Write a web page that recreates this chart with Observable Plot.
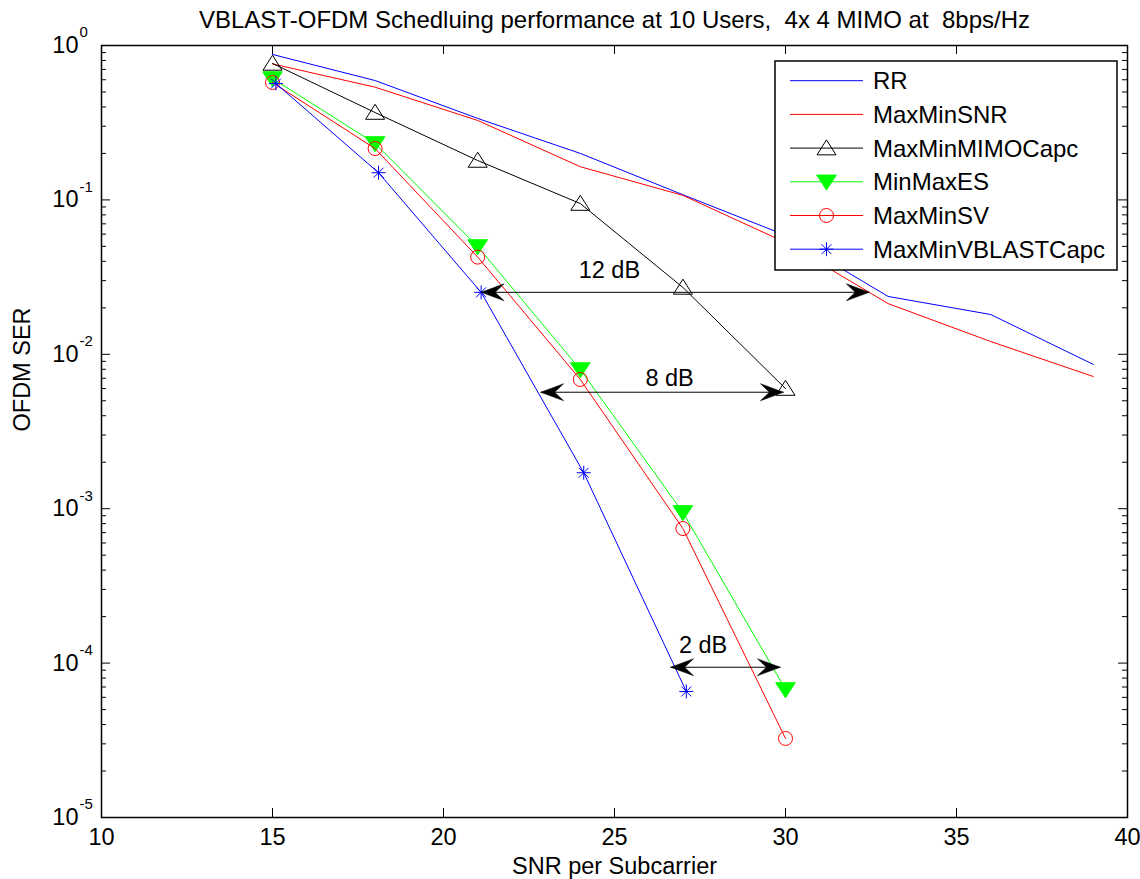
<!DOCTYPE html>
<html>
<head>
<meta charset="utf-8">
<script src="https://cdn.jsdelivr.net/npm/d3@7"></script>
<script src="https://cdn.jsdelivr.net/npm/@observablehq/plot@0.6"></script>
<style>
  body { margin: 0; background: #fff; font-family: "Liberation Sans", Arial, sans-serif; }
  #chart { position: relative; width: 1140px; height: 879px; }
  #chart svg text { white-space: pre; }
  #legend { position: absolute; left: 0; top: 0; pointer-events: none; }
</style>
</head>
<body>
<div id="chart"></div>
<script>
// SNR grid (dB) for each scheduler
const snrLong = [15, 18, 21, 24, 27, 30, 33, 36, 39];
const snrShort = [15, 18, 21, 24, 27, 30];
const snrVBLAST = [15.1, 18.1, 21.1, 24.1, 27.1];

// OFDM symbol error rate per scheduler
const serRR = [0.875, 0.593, 0.337, 0.20, 0.108, 0.059, 0.0237, 0.0181, 0.0086];
const serMaxMinSNR = [0.76, 0.537, 0.327, 0.164, 0.107, 0.053, 0.0213, 0.0121, 0.00718];
const serMaxMinMIMOCapc = [0.765, 0.368, 0.18, 0.0947, 0.0271, 0.0060];
const serMinMaxES = [0.611, 0.232, 0.0499, 0.00797, 0.000946, 6.75e-5];
const serMaxMinSV = [0.576, 0.215, 0.0426, 0.00687, 0.000744, 3.25e-5];
const serMaxMinVBLASTCapc = [0.567, 0.150, 0.0252, 0.00171, 6.55e-5];

const seriesNames = ["RR", "MaxMinSNR", "MaxMinMIMOCapc", "MinMaxES", "MaxMinSV", "MaxMinVBLASTCapc"];

// SNR-gap annotations
const gapLabels = ["12 dB", "8 dB", "2 dB"];
const gapFrom = [21.1, 22.84, 26.64];
const gapTo = [32.45, 29.94, 29.85];
const gapSER = [0.0252, 0.00568, 9.4e-5];
const gapLabelSNR = [24.85, 26.61, 27.59];
const gapLabelSER = [0.0349, 0.00697, 1.3e-4];

// Axis ticks
const xTicks = [10, 15, 20, 25, 30, 35, 40];
const yTicks = [1, 1e-1, 1e-2, 1e-3, 1e-4, 1e-5];
const yTickExponents = ["0", "-1", "-2", "-3", "-4", "-5"];

const title = "VBLAST-OFDM Schedluing performance at 10 Users,  4x 4 MIMO at  8bps/Hz";
const xLabel = "SNR per Subcarrier";
const yLabel = "OFDM SER";

// ---- layout ----
const W = 1140, H = 879;
const mL = 101, mR = 13, mT = 45, mB = 62;
const frameW = W - mL - mR, frameH = H - mT - mB;
const FONT = "\"Liberation Sans\", Arial, Helvetica, sans-serif";
const FS = 23.5;

// ---- marker shapes ----
const asterisk = {
  draw(ctx, size) {
    const r = Math.sqrt(size / Math.PI), d = r * Math.SQRT1_2;
    ctx.moveTo(-r, 0); ctx.lineTo(r, 0);
    ctx.moveTo(0, -r); ctx.lineTo(0, r);
    ctx.moveTo(-d, -d); ctx.lineTo(d, d);
    ctx.moveTo(-d, d); ctx.lineTo(d, -d);
  }
};
const triangleUp = {
  draw(ctx) {
    const w = 9.5, h = 15;
    ctx.moveTo(0, -0.55 * h); ctx.lineTo(w, 0.45 * h); ctx.lineTo(-w, 0.45 * h); ctx.closePath();
  }
};
const triangleDown = {
  draw(ctx) {
    const w = 9.8, h = 15;
    ctx.moveTo(0, 0.55 * h); ctx.lineTo(w, -0.45 * h); ctx.lineTo(-w, -0.45 * h); ctx.closePath();
  }
};
function arrowHead(dir) {
  return {
    draw(ctx) {
      const L = 23, h = 8.5, n = 14;
      ctx.moveTo(0, 0);
      ctx.lineTo(-dir * L, -h);
      ctx.lineTo(-dir * n, 0);
      ctx.lineTo(-dir * L, h);
      ctx.closePath();
    }
  };
}

const seriesStyle = {
  RR: {stroke: "#0000ff"},
  MaxMinSNR: {stroke: "#ff0000"},
  MaxMinMIMOCapc: {stroke: "#000000", symbol: triangleUp, fill: "none", r: 7},
  MinMaxES: {stroke: "#00ff00", symbol: triangleDown, fill: "#00ff00", r: 7},
  MaxMinSV: {stroke: "#ff0000", symbol: "circle", fill: "none", r: 7},
  MaxMinVBLASTCapc: {stroke: "#0000ff", symbol: asterisk, fill: "none", r: 7}
};

const zip = (xs, ys) => xs.map((x, i) => ({snr: x, ser: ys[i]}));
const series = {
  RR: zip(snrLong, serRR),
  MaxMinSNR: zip(snrLong, serMaxMinSNR),
  MaxMinMIMOCapc: zip(snrShort, serMaxMinMIMOCapc),
  MinMaxES: zip(snrShort, serMinMaxES),
  MaxMinSV: zip(snrShort, serMaxMinSV),
  MaxMinVBLASTCapc: zip(snrVBLAST, serMaxMinVBLASTCapc)
};

const gaps = gapLabels.map((label, i) => ({
  label, from: gapFrom[i], to: gapTo[i], ser: gapSER[i], lx: gapLabelSNR[i], ly: gapLabelSER[i]
}));

// minor log ticks 2..9 per decade
const yMinor = [];
for (let e = -5; e < 0; ++e) for (let k = 2; k <= 9; ++k) yMinor.push(k * Math.pow(10, e));

const seriesMarks = seriesNames.flatMap((name) => {
  const s = seriesStyle[name];
  const marks = [Plot.line(series[name], {x: "snr", y: "ser", stroke: s.stroke, strokeWidth: 1})];
  if (s.symbol) {
    marks.push(Plot.dot(series[name], {
      x: "snr", y: "ser", symbol: s.symbol, r: s.r, stroke: s.stroke, fill: s.fill, strokeWidth: 1
    }));
  }
  return marks;
});

const chart = Plot.plot({
  width: W, height: H,
  marginLeft: mL, marginRight: mR, marginTop: mT, marginBottom: mB,
  style: {fontFamily: FONT, fontSize: `${FS}px`, color: "#000", background: "#fff", overflow: "visible"},
  x: {domain: [10, 40]},
  y: {type: "log", domain: [1e-5, 1], axis: null},
  marks: [
    // inward ticks on all four sides
    Plot.tickX(xTicks, {x: (d) => d, insetTop: frameH - 9, stroke: "#000"}),
    Plot.tickX(xTicks, {x: (d) => d, insetBottom: frameH - 9, stroke: "#000"}),
    Plot.tickY(yTicks, {y: (d) => d, insetRight: frameW - 9, stroke: "#000"}),
    Plot.tickY(yTicks, {y: (d) => d, insetLeft: frameW - 9, stroke: "#000"}),
    Plot.tickY(yMinor, {y: (d) => d, insetRight: frameW - 5, stroke: "#000"}),
    Plot.tickY(yMinor, {y: (d) => d, insetLeft: frameW - 5, stroke: "#000"}),

    // tick labels
    Plot.axisX({ticks: xTicks, tickSize: 0, tickPadding: 11, tickFormat: (d) => `${d}`, label: null, fontSize: FS}),
    Plot.text(yTicks, {y: (d) => d, frameAnchor: "left", dx: -23, textAnchor: "end", text: () => "10", fontSize: FS}),
    Plot.text(yTicks, {y: (d) => d, frameAnchor: "left", dx: -22, dy: -13, textAnchor: "start", text: (d, i) => yTickExponents[i], fontSize: 15}),

    // axis titles and chart title
    Plot.text([xLabel], {frameAnchor: "bottom", lineAnchor: "middle", dy: 49, text: (d) => d, fontSize: FS}),
    Plot.text([yLabel], {frameAnchor: "left", lineAnchor: "middle", dx: -79, rotate: -90, text: (d) => d, fontSize: FS}),
    Plot.text([title], {frameAnchor: "top", lineAnchor: "middle", dy: -25, text: (d) => d, fontSize: 24}),

    ...seriesMarks,

    // SNR gap arrows
    Plot.link(gaps, {x1: "from", x2: "to", y1: "ser", y2: "ser", stroke: "#000", strokeWidth: 1}),
    Plot.dot(gaps, {x: "from", y: "ser", symbol: arrowHead(-1), fill: "#000", stroke: "#000", strokeWidth: 0.5}),
    Plot.dot(gaps, {x: "to", y: "ser", symbol: arrowHead(1), fill: "#000", stroke: "#000", strokeWidth: 0.5}),
    Plot.text(gaps, {x: "lx", y: "ly", text: "label", fontSize: FS}),

    Plot.frame({stroke: "#000", strokeWidth: 1.5})
  ]
});

const container = document.getElementById("chart");
container.appendChild(chart);

// ---- legend box (top right of the axes) ----
const lg = d3.select(container).append("svg")
  .attr("id", "legend").attr("width", W).attr("height", H)
  .style("font-family", FONT);
const box = {x: 775, y: 61, w: 342, h: 209};
const g = lg.append("g");
g.append("rect").attr("x", box.x).attr("y", box.y).attr("width", box.w).attr("height", box.h)
  .attr("fill", "#fff").attr("stroke", "#000").attr("stroke-width", 1.5);
seriesNames.forEach((name, i) => {
  const s = seriesStyle[name];
  const cy = box.y + 19.7 + i * 33.7;
  g.append("line").attr("x1", box.x + 15).attr("x2", box.x + 88).attr("y1", cy).attr("y2", cy)
    .attr("stroke", s.stroke).attr("stroke-width", 1);
  if (s.symbol) {
    const type = typeof s.symbol === "string" ? d3.symbolCircle : s.symbol;
    g.append("path").attr("transform", `translate(${box.x + 51.5},${cy})`)
      .attr("d", d3.symbol().type(type).size(Math.PI * s.r * s.r)())
      .attr("fill", s.fill).attr("stroke", s.stroke).attr("stroke-width", 1);
  }
  g.append("text").attr("x", box.x + 98).attr("y", cy).attr("dy", "0.35em")
    .attr("font-size", 24).attr("fill", "#000").text(name);
});
</script>
</body>
</html>
